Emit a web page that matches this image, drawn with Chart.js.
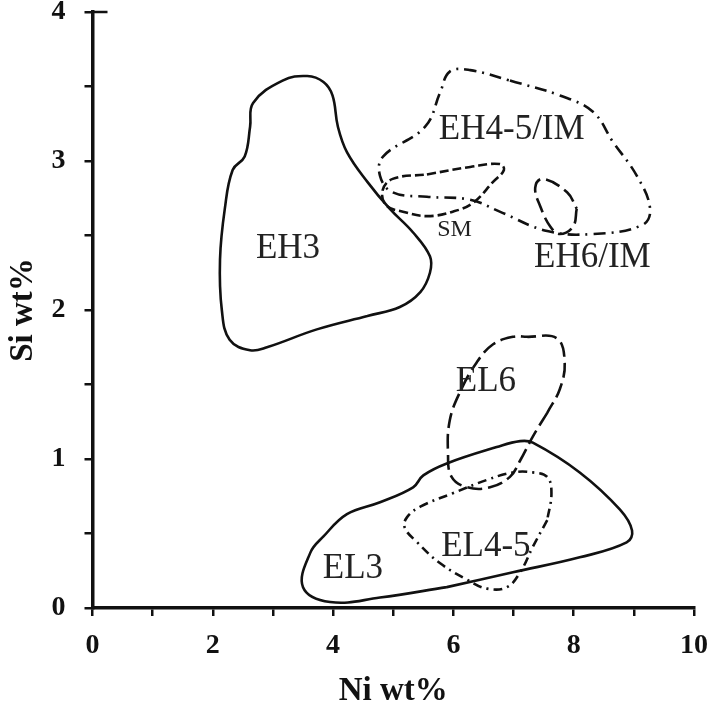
<!DOCTYPE html>
<html>
<head>
<meta charset="utf-8">
<script src="https://cdn.jsdelivr.net/npm/chart.js@4/dist/chart.umd.min.js"></script>
<style>
html,body{margin:0;padding:0;background:#fff;}
#wrap{width:712px;height:712px;}
</style>
</head>
<body>
<div id="wrap"><canvas id="c" width="712" height="712"></canvas></div>
<script>
// Region outlines (Ni wt%, Si wt%)
const EH3 = [[4.57,1.96],[3.73,1.87],[2.90,1.75],[2.62,1.73],[2.28,1.80],[2.15,2.00],[2.12,2.34],[2.20,2.68],[2.33,2.94],[2.53,3.03],[2.62,3.23],[2.67,3.39],[3.16,3.54],[3.57,3.57],[3.84,3.53],[3.99,3.44],[4.08,3.23],[4.23,3.06],[4.57,2.86],[4.94,2.68],[5.33,2.52],[5.61,2.36],[5.61,2.25],[5.45,2.12],[5.11,2.02]];
const EH45IM = [[6.94,3.54],[7.77,3.44],[8.32,3.33],[8.65,3.13],[9.05,2.90],[9.27,2.68],[9.14,2.57],[8.32,2.51],[7.56,2.53],[6.77,2.66],[6.28,2.74],[5.56,2.76],[4.99,2.79],[4.78,2.90],[4.83,3.03],[5.53,3.23],[5.78,3.46],[5.94,3.60],[6.28,3.61]];
const SM = [[5.56,2.91],[6.28,2.96],[6.77,2.98],[6.84,2.94],[6.66,2.86],[6.33,2.72],[5.99,2.66],[5.56,2.63],[5.16,2.66],[4.89,2.70],[4.82,2.80],[4.99,2.88]];
const EH6IM = [[8.05,2.68],[7.99,2.56],[7.77,2.51],[7.61,2.56],[7.44,2.70],[7.36,2.82],[7.48,2.88],[7.89,2.79]];
const EL3 = [[5.89,0.14],[6.99,0.24],[8.10,0.34],[8.88,0.44],[8.97,0.52],[8.77,0.66],[8.10,0.91],[7.32,1.11],[7.11,1.12],[6.72,1.08],[5.89,0.97],[5.50,0.89],[5.33,0.81],[4.78,0.71],[4.23,0.63],[3.84,0.48],[3.62,0.37],[3.50,0.14],[3.95,0.04],[4.78,0.07]];
const EL6 = [[7.56,1.31],[7.32,1.15],[7.11,0.99],[6.94,0.88],[6.61,0.81],[6.23,0.81],[5.97,0.88],[5.91,1.04],[5.94,1.26],[6.11,1.45],[6.39,1.65],[6.66,1.77],[6.99,1.82],[7.22,1.82],[7.72,1.81],[7.85,1.65],[7.77,1.47]];
const EL45 = [[7.56,0.59],[7.32,0.41],[7.11,0.24],[6.89,0.14],[6.56,0.13],[6.23,0.19],[5.78,0.30],[5.40,0.44],[5.19,0.54],[5.23,0.61],[5.45,0.68],[5.99,0.77],[6.56,0.86],[6.99,0.91],[7.32,0.91],[7.56,0.88],[7.63,0.77]];

const labelTexts = ["EH3","EH4-5/IM","SM","EH6/IM","EL6","EL4-5","EL3"];
const labelX = [3.25, 6.97, 6.02, 8.31, 6.54, 6.54, 4.33];
const labelY = [2.41, 3.21, 2.54, 2.35, 1.52, 0.41, 0.26];
const labelSmall = [false,false,true,false,false,false,false];

const xTickLabels = ["0","2","4","6","8","10"];
const yTickLabels = ["0","1","2","3","4"];

const SERIF = '"Liberation Serif", Tinos, "Times New Roman", "Nimbus Roman", FreeSerif, serif';

function fitSize(text, weight, target){
  const c = document.createElement('canvas').getContext('2d');
  c.font = weight + ' 100px ' + SERIF;
  return Math.round(100 * target / c.measureText(text).width);
}

function closed(arr){
  const pts = arr.map(p=>({x:p[0],y:p[1]}));
  pts.push({x:arr[0][0],y:arr[0][1]});
  return pts;
}
function ds(arr, dash){
  return {data:closed(arr), showLine:true, borderColor:'#111', borderWidth:2.6,
    borderDash:dash, pointRadius:0, tension:0.4, fill:false, borderCapStyle:'butt', borderJoinStyle:'round'};
}

function build(){
  const tickSize = Math.min(fitSize('10','bold',28), 28);
  const titleSize = Math.min(fitSize('Ni wt%','bold',110), 33);
  const bigSize = Math.min(fitSize('EH4-5/IM','normal',145), 35);
  const smSize = Math.min(fitSize('SM','normal',34), 24);

  const labelPlugin = {
    id:'regionLabels',
    afterDatasetsDraw(chart){
      const {ctx, scales:{x,y}} = chart;
      ctx.save();
      ctx.fillStyle = '#222';
      ctx.textAlign = 'center';
      ctx.textBaseline = 'middle';
      labelTexts.forEach((t,i)=>{
        ctx.font = (labelSmall[i] ? smSize : bigSize) + 'px ' + SERIF;
        ctx.fillText(t, x.getPixelForValue(labelX[i]), y.getPixelForValue(labelY[i]));
      });
      // short cap at the top of the y axis
      ctx.strokeStyle = '#111';
      ctx.lineWidth = 2.5;
      ctx.beginPath();
      const yTop = y.getPixelForValue(4);
      const x0 = x.getPixelForValue(0);
      ctx.moveTo(x0, yTop);
      ctx.lineTo(x0 + 15, yTop);
      ctx.stroke();
      ctx.restore();
    }
  };

  new Chart(document.getElementById('c'), {
    type:'scatter',
    data:{datasets:[
      ds(EH3, []),
      ds(EH45IM, [12,6,2,6]),
      ds(SM, [9,4]),
      ds(EH6IM, [15,6]),
      ds(EL3, []),
      ds(EL6, [15,6]),
      ds(EL45, [9,5,2,5])
    ]},
    options:{
      responsive:false, animation:false,
      layout:{padding:{top:12,right:18,left:0,bottom:0}},
      plugins:{legend:{display:false}, tooltip:{enabled:false}},
      scales:{
        x:{type:'linear', min:0, max:10,
          afterFit(s){ s.height = 104; s.paddingLeft = 0; s.paddingRight = 0; },
          border:{display:true, width:3.5, color:'#111'},
          grid:{drawOnChartArea:false, drawTicks:true, tickLength:8, color:'#111', lineWidth:2.5},
          ticks:{stepSize:1, autoSkip:false, maxRotation:0, padding:13, color:'#111',
            font:{family:SERIF, size:tickSize, weight:'bold'},
            callback(v){ return (v%2===0) ? xTickLabels[v/2] : ''; }},
          title:{display:true, text:'Ni wt%', color:'#111', padding:{top:0, bottom:1},
            font:{family:SERIF, size:titleSize, weight:'bold'}}
        },
        y:{type:'linear', min:0, max:4,
          afterFit(s){ s.width = 92.5; s.paddingTop = 0; s.paddingBottom = 0; },
          border:{display:true, width:3.5, color:'#111'},
          grid:{drawOnChartArea:false, drawTicks:true, tickLength:8, color:'#111', lineWidth:2.5},
          ticks:{stepSize:0.5, autoSkip:false, padding:19, color:'#111',
            font:{family:SERIF, size:tickSize, weight:'bold'},
            callback(v){ return Number.isInteger(v) ? yTickLabels[v] : ''; }},
          title:{display:true, text:'Si wt%', color:'#111', padding:{top:4, bottom:0},
            font:{family:SERIF, size:titleSize, weight:'bold'}}
        }
      }
    },
    plugins:[labelPlugin]
  });
}
build();
</script>
</body>
</html>
